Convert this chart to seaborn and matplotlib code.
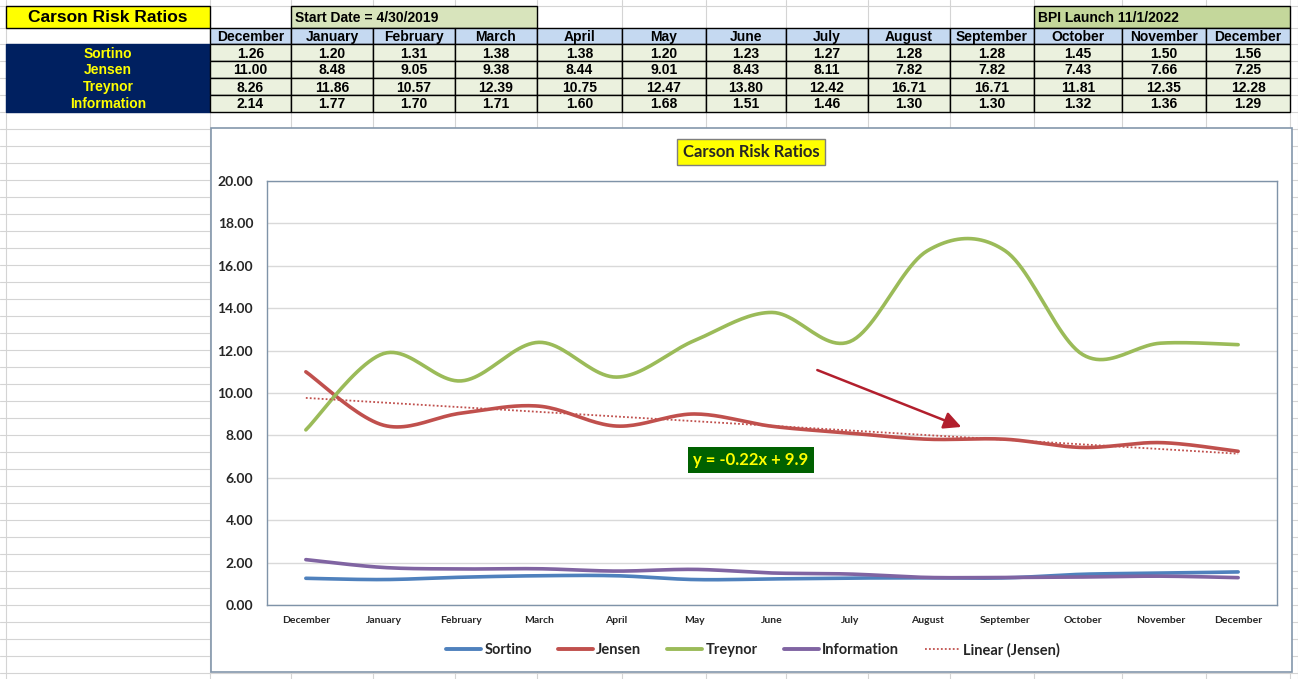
import numpy as np
import pandas as pd
import seaborn as sns
import matplotlib.pyplot as plt
from matplotlib.patches import Rectangle
from matplotlib.lines import Line2D
from matplotlib import font_manager

# data
months = ["December", "January", "February", "March", "April", "May", "June",
          "July", "August", "September", "October", "November", "December"]
sortino = [1.26, 1.20, 1.31, 1.38, 1.38, 1.20, 1.23, 1.27, 1.28, 1.28, 1.45, 1.50, 1.56]
jensen = [11.00, 8.48, 9.05, 9.38, 8.44, 9.01, 8.43, 8.11, 7.82, 7.82, 7.43, 7.66, 7.25]
treynor = [8.26, 11.86, 10.57, 12.39, 10.75, 12.47, 13.80, 12.42, 16.71, 16.71, 11.81, 12.35, 12.28]
information = [2.14, 1.77, 1.70, 1.71, 1.60, 1.68, 1.51, 1.46, 1.30, 1.30, 1.32, 1.36, 1.29]
series_names = ["Sortino", "Jensen", "Treynor", "Information"]
eq_label = "y = -0.22x + 9.9"
start_label = "Start Date = 4/30/2019"
bpi_label = "BPI Launch 11/1/2022"
title = "Carson Risk Ratios"

colors = {"Sortino": "#4f81bd", "Jensen": "#c0504d", "Treynor": "#9bbb59", "Information": "#8064a2"}


def pick_font(names):
    have = {f.name for f in font_manager.fontManager.ttflist}
    for n in names:
        if n in have:
            return n
    return "DejaVu Sans"


sns.set_theme(style="white")
table_font = pick_font(["Liberation Sans Narrow", "Liberation Sans", "DejaVu Sans"])
chart_font = pick_font(["Lato", "Open Sans", "DejaVu Sans"])
plt.rcParams['font.family'] = [chart_font, 'DejaVu Sans']


# excel style smoothed line (bezier through the points)
def smooth(vals, n=24):
    pts = np.column_stack([np.arange(len(vals)), np.asarray(vals, float)])
    xs, ys = [], []
    for i in range(len(pts) - 1):
        p0 = pts[max(i - 1, 0)]
        p1 = pts[i]
        p2 = pts[i + 1]
        p3 = pts[min(i + 2, len(pts) - 1)]
        c1 = p1 + (p2 - p0) / 6
        c2 = p2 - (p3 - p1) / 6
        t = np.linspace(0, 1, n)[:, None]
        b = (1 - t) ** 3 * p1 + 3 * (1 - t) ** 2 * t * c1 + 3 * (1 - t) * t ** 2 * c2 + t ** 3 * p2
        xs.extend(b[:, 0])
        ys.extend(b[:, 1])
    return xs, ys


fig = plt.figure(figsize=(12.98, 6.79), dpi=100)

# spreadsheet background in pixel coords
bg = fig.add_axes([0, 0, 1, 1])
bg.set_xlim(0, 1298)
bg.set_ylim(679, 0)
bg.axis("off")

col_edges = [6, 210, 291, 373, 455, 537, 622, 706, 786, 868, 950, 1034, 1122, 1206, 1290]
row_edges = [6, 28, 44, 61, 78, 95, 112]
sheet_rows = row_edges + list(range(129, 679, 17))
for x in col_edges + [1298]:
    bg.plot([x, x], [0, 679], color="#d4d4d4", lw=0.8, zorder=0)
for y in sheet_rows:
    bg.plot([0, 1298], [y, y], color="#d4d4d4", lw=0.8, zorder=0)


def cell(x0, x1, y0, y1, fc, text="", tc="black", size=10, ha="center", fam=None, edge="black"):
    bg.add_patch(Rectangle((x0, y0), x1 - x0, y1 - y0, facecolor=fc, edgecolor=edge, lw=1, zorder=1))
    if text:
        tx = (x0 + x1) / 2 if ha == "center" else x0 + 4
        bg.text(tx, (y0 + y1) / 2 + 1, text, ha=ha, va="center", color=tc, fontsize=size,
                fontweight="bold", family=[fam or table_font, "DejaVu Sans"], zorder=2)


cell(6, 210, 6, 28, "#ffff00", title, size=12.5)
cell(291, 537, 6, 28, "#d8e4bc", start_label, size=10, ha="left")
cell(1034, 1290, 6, 28, "#c4d79b", bpi_label, size=10, ha="left")
table_rows = [sortino, jensen, treynor, information]
for j, m in enumerate(months):
    cell(col_edges[j + 1], col_edges[j + 2], 28, 44, "#c5d9f1", m, size=10)
for i, (name, vals) in enumerate(zip(series_names, table_rows)):
    y0, y1 = row_edges[i + 2], row_edges[i + 3]
    cell(6, 210, y0, y1, "#002060", name, tc="#ffff00", size=10, edge="#002060")
    for j, v in enumerate(vals):
        cell(col_edges[j + 1], col_edges[j + 2], y0, y1, "#ebf1de", f"{v:.2f}", size=10)

# chart frame
bg.add_patch(Rectangle((211, 128), 1081, 544, facecolor="white", edgecolor="#8497ac", lw=1.2, zorder=3))

# chart
ax = fig.add_axes([267 / 1298, 1 - 605 / 679, 1010 / 1298, 424 / 679])
ax.set_zorder(5)

frames = []
for name, vals in zip(series_names, table_rows):
    sx, sy = smooth(vals)
    frames.append(pd.DataFrame({"x": sx, "y": sy, "series": name}))
df = pd.concat(frames, ignore_index=True)
sns.lineplot(data=df, x="x", y="y", hue="series", palette=colors, sort=False,
             estimator=None, lw=2.6, legend=False, ax=ax)

# linear trend on Jensen
xi = np.arange(1, len(jensen) + 1)
coef = np.polyfit(xi, jensen, 1)
ax.plot(np.arange(len(jensen)), np.polyval(coef, xi), ls=(0, (1, 1.2)), color="#c0504d", lw=1.3, zorder=4)

ax.set_xlim(-0.5, len(months) - 0.5)
ax.set_ylim(0, 20)
ax.set_yticks(np.arange(0, 21, 2))
ax.set_yticklabels([f"{v:.2f}" for v in np.arange(0, 21, 2)], fontsize=10, fontweight="bold")
ax.set_xticks(range(len(months)))
ax.set_xticklabels(months, fontsize=7.5, fontweight="bold")
ax.tick_params(axis="y", length=0, pad=10)
ax.tick_params(axis="x", length=0, pad=8)
ax.set_xlabel("")
ax.set_ylabel("")
ax.grid(axis="y", color="#d9d9d9", lw=1)
ax.set_axisbelow(True)
for s in ax.spines.values():
    s.set_color("#7f93a8")
    s.set_linewidth(1)

ax.annotate("", xy=(8.47, 8.35), xytext=(6.55, 11.13),
            arrowprops=dict(arrowstyle="-|>", color="#b21f2d", lw=1.8, mutation_scale=26))
ax.text(5.73, 6.83, eq_label, ha="center", va="center", color="#ffff00", fontsize=12,
        fontweight="bold", bbox=dict(boxstyle="square,pad=0.3", fc="#006100", ec="none"))

fig.text(751 / 1298, 1 - 152 / 679, title, ha="center", va="center", fontsize=12, fontweight="bold",
         bbox=dict(boxstyle="square,pad=0.32", fc="#ffff00", ec="#7f7f7f", lw=1), zorder=6)

handles = [Line2D([], [], color=colors[n], lw=2.8) for n in series_names]
handles.append(Line2D([], [], color="#c0504d", lw=1.3, ls=(0, (1, 1.2))))
fig.legend(handles, series_names + ["Linear (Jensen)"], loc="center", bbox_to_anchor=(753 / 1298, 1 - 650 / 679),
           ncol=5, frameon=False, handlelength=2.4, handletextpad=0.2, columnspacing=1.8,
           prop={"weight": "bold", "size": 10.5})

fig.savefig("out.png", dpi=100)
